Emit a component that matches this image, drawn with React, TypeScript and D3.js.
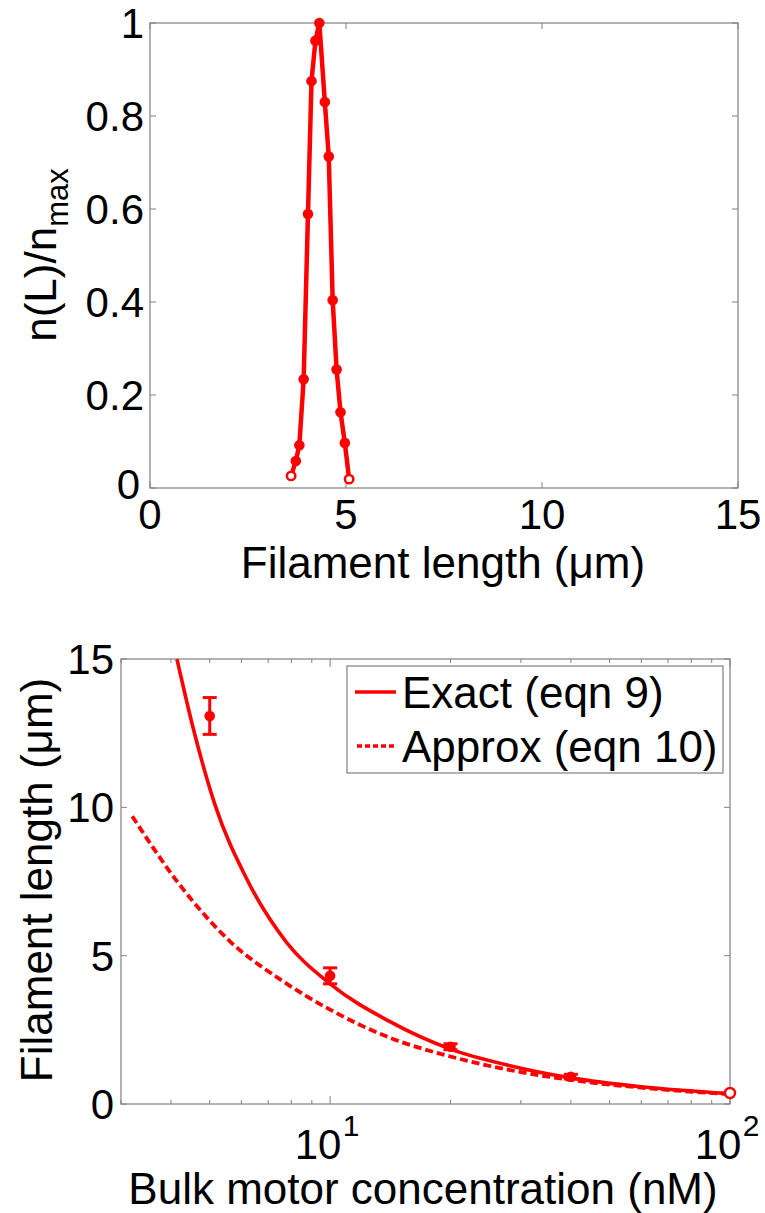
import React from "react";
import * as d3 from "d3";

// ---------- Top panel data: normalized length distribution ----------
const distL = [3.6, 3.72, 3.81, 3.92, 4.03, 4.12, 4.22, 4.32, 4.46, 4.56, 4.66, 4.76, 4.86, 4.97, 5.08];
const distN = [0.026, 0.058, 0.092, 0.234, 0.589, 0.875, 0.962, 1.0, 0.83, 0.713, 0.404, 0.255, 0.163, 0.097, 0.019];
const topXTicks = [0, 5, 10, 15];
const topYTicks = [0, 0.2, 0.4, 0.6, 0.8, 1];

// ---------- Bottom panel data ----------
const exactC = [4.14, 4.55, 5.15, 6.18, 7.78, 10, 14, 20, 28, 40, 60, 100];
const exactL = [15, 12.65, 10.1, 7.6, 5.45, 4.05, 2.8, 1.85, 1.3, 0.88, 0.58, 0.35];
const approxC = [3.2, 4.2, 5.6, 7.5, 10, 14, 20, 28, 40, 60, 100];
const approxL = [9.7, 7.4, 5.5, 4.2, 3.18, 2.25, 1.6, 1.15, 0.81, 0.55, 0.33];
const expC = [5, 10, 20, 40];
const expL = [13.08, 4.32, 1.93, 0.92];
const expErr = [0.62, 0.27, 0.1, 0.08];
const endC = [100];
const endL = [0.37];
const botYTicks = [0, 5, 10, 15];
const botXMajor = [10, 100];
const botXMinor = [3, 4, 5, 6, 7, 8, 9, 20, 30, 40, 50, 60, 70, 80, 90];

const RED = "#ff0000";
const AX = "#808080";
const FONT = "Arial, 'Liberation Sans', Helvetica, sans-serif";
const TICKFS = 42;
const LABFS = 44;

export default function App() {
  // Top panel scales
  const tx = d3.scaleLinear().domain([0, 15]).range([150, 738]);
  const ty = d3.scaleLinear().domain([0, 1]).range([488, 23]);
  const topLine = d3
    .line<number>()
    .x((_, i) => tx(distL[i]))
    .y((_, i) => ty(distN[i]));

  // Bottom panel scales
  const bx = d3.scaleLog().domain([3, 100]).range([121, 730]);
  const by = d3.scaleLinear().domain([0, 15]).range([1104, 659]);
  const exactLine = d3
    .line<number>()
    .x((_, i) => bx(exactC[i]))
    .y((_, i) => by(exactL[i]))
    .curve(d3.curveMonotoneX);
  const approxLine = d3
    .line<number>()
    .x((_, i) => bx(approxC[i]))
    .y((_, i) => by(approxL[i]))
    .curve(d3.curveMonotoneX);

  const tk = 6;
  const last = distL.length - 1;

  return (
    <svg width={765} height={1213} style={{ display: "block", position: "absolute", left: 0, top: 0, background: "#fff" }} fontFamily={FONT}>
      <rect x={0} y={0} width={765} height={1213} fill="#fff" />
      {/* ===== Top panel ===== */}
      <rect x={tx(0)} y={ty(1)} width={tx(15) - tx(0)} height={ty(0) - ty(1)} fill="none" stroke={AX} strokeWidth={1.2} />
      {topXTicks.map((v) => (
        <g key={"tx" + v}>
          <line x1={tx(v)} x2={tx(v)} y1={ty(0)} y2={ty(0) - tk} stroke={AX} strokeWidth={1} />
          <line x1={tx(v)} x2={tx(v)} y1={ty(1)} y2={ty(1) + tk} stroke={AX} strokeWidth={1} />
          <text x={tx(v)} y={529} fontSize={TICKFS} textAnchor="middle" fill="#000">{v}</text>
        </g>
      ))}
      {topYTicks.map((v) => (
        <g key={"ty" + v}>
          <line x1={tx(0)} x2={tx(0) + tk} y1={ty(v)} y2={ty(v)} stroke={AX} strokeWidth={1} />
          <line x1={tx(15)} x2={tx(15) - tk} y1={ty(v)} y2={ty(v)} stroke={AX} strokeWidth={1} />
          <text x={v === 0 ? 140 : 144} y={ty(v) + (v === 0 ? 11 : 15)} fontSize={TICKFS} textAnchor="end" fill="#000">{v}</text>
        </g>
      ))}
      <path d={topLine(distL) || ""} fill="none" stroke={RED} strokeWidth={4.5} strokeLinejoin="round" />
      {distL.map((v, i) =>
        i === 0 || i === last ? (
          <circle key={"m" + i} cx={tx(v)} cy={ty(distN[i])} r={4.2} fill="#fff" stroke={RED} strokeWidth={2.5} />
        ) : (
          <circle key={"m" + i} cx={tx(v)} cy={ty(distN[i])} r={5.3} fill={RED} />
        )
      )}
      <text x={443} y={578} fontSize={LABFS} textAnchor="middle" fill="#000">Filament length (μm)</text>
      <text transform={`translate(56,255) rotate(-90)`} fontSize={LABFS} textAnchor="middle" fill="#000">
        n(L)/n<tspan fontSize={31} dy={12}>max</tspan>
      </text>

      {/* ===== Bottom panel ===== */}
      <rect x={bx(3)} y={by(15)} width={bx(100) - bx(3)} height={by(0) - by(15)} fill="none" stroke={AX} strokeWidth={1.2} />
      {botXMinor.map((v) => (
        <g key={"bxm" + v}>
          <line x1={bx(v)} x2={bx(v)} y1={by(0)} y2={by(0) - 4} stroke={AX} strokeWidth={1} />
          <line x1={bx(v)} x2={bx(v)} y1={by(15)} y2={by(15) + 4} stroke={AX} strokeWidth={1} />
        </g>
      ))}
      {botXMajor.map((v) => (
        <g key={"bxM" + v}>
          <line x1={bx(v)} x2={bx(v)} y1={by(0)} y2={by(0) - 8} stroke={AX} strokeWidth={1} />
          <line x1={bx(v)} x2={bx(v)} y1={by(15)} y2={by(15) + 8} stroke={AX} strokeWidth={1} />
          <text x={bx(v) - 12} y={1159} fontSize={TICKFS} textAnchor="middle" fill="#000">10</text>
          <text x={bx(v) + 21} y={1136} fontSize={30} textAnchor="middle" fill="#000">{Math.round(Math.log10(v))}</text>
        </g>
      ))}
      {botYTicks.map((v) => (
        <g key={"by" + v}>
          <line x1={bx(3)} x2={bx(3) + tk} y1={by(v)} y2={by(v)} stroke={AX} strokeWidth={1} />
          <line x1={bx(100)} x2={bx(100) - tk} y1={by(v)} y2={by(v)} stroke={AX} strokeWidth={1} />
          <text x={114} y={by(v) + 15} fontSize={TICKFS} textAnchor="end" fill="#000">{v}</text>
        </g>
      ))}
      <defs>
        <clipPath id="botclip">
          <rect x={bx(3)} y={by(15)} width={bx(100) - bx(3)} height={by(0) - by(15)} />
        </clipPath>
      </defs>
      <g clipPath="url(#botclip)">
        <path d={approxLine(approxC) || ""} fill="none" stroke={RED} strokeWidth={3.8} strokeDasharray="8,4" />
        <path d={exactLine(exactC) || ""} fill="none" stroke={RED} strokeWidth={3.6} />
      </g>
      {expC.map((c, i) => (
        <g key={"e" + i}>
          <line x1={bx(c)} x2={bx(c)} y1={by(expL[i] + expErr[i])} y2={by(expL[i] - expErr[i])} stroke={RED} strokeWidth={3} />
          <line x1={bx(c) - 7} x2={bx(c) + 7} y1={by(expL[i] + expErr[i])} y2={by(expL[i] + expErr[i])} stroke={RED} strokeWidth={3} />
          <line x1={bx(c) - 7} x2={bx(c) + 7} y1={by(expL[i] - expErr[i])} y2={by(expL[i] - expErr[i])} stroke={RED} strokeWidth={3} />
          <circle cx={bx(c)} cy={by(expL[i])} r={5.3} fill={RED} />
        </g>
      ))}
      {endC.map((c, i) => (
        <circle key={"end" + i} cx={bx(c)} cy={by(endL[i])} r={5} fill="#fff" stroke={RED} strokeWidth={2.5} />
      ))}
      {/* Legend */}
      <rect x={347} y={666} width={376} height={107} fill="#fff" stroke={AX} strokeWidth={1.2} />
      <line x1={355} x2={396} y1={692} y2={692} stroke={RED} strokeWidth={3.6} />
      <line x1={357} x2={396} y1={746} y2={746} stroke={RED} strokeWidth={3.6} strokeDasharray="5,3" />
      <text x={402} y={708} fontSize={LABFS} fill="#000">Exact (eqn 9)</text>
      <text x={402} y={762} fontSize={LABFS} fill="#000">Approx (eqn 10)</text>

      <text x={423} y={1204} fontSize={LABFS} textAnchor="middle" fill="#000">Bulk motor concentration (nM)</text>
      <text transform={`translate(52,880) rotate(-90)`} fontSize={LABFS} textAnchor="middle" fill="#000">Filament length (μm)</text>
    </svg>
  );
}
